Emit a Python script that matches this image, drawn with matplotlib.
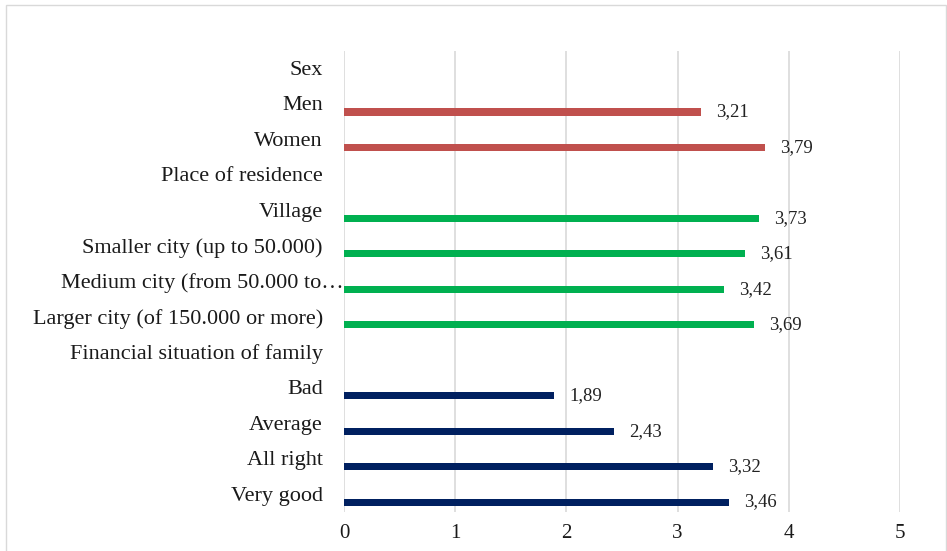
import numpy as np
import matplotlib
matplotlib.use("Agg")
import matplotlib.pyplot as plt
from matplotlib.patches import Rectangle

plt.rcParams['font.family'] = ['Liberation Serif', 'DejaVu Serif']

# Data
group_titles = ["Sex", "Place of residence", "Financial situation of family"]

sex_labels = ["Men", "Women"]
sex_values = [3.21, 3.79]

residence_labels = ["Village", "Smaller city (up to 50.000)",
                    "Medium city (from 50.000 to\u2026",
                    "Larger city (of 150.000 or more)"]
residence_values = [3.73, 3.61, 3.42, 3.69]

finance_labels = ["Bad", "Average", "All right", "Very good"]
finance_values = [1.89, 2.43, 3.32, 3.46]

x_ticks = [0, 1, 2, 3, 4, 5]

colors = ["#C0504D", "#00B050", "#002060"]

# Build the category list (group title followed by its members)
categories = []
series = []
for title, labels, values in zip(group_titles,
                                 [sex_labels, residence_labels, finance_labels],
                                 [sex_values, residence_values, finance_values]):
    categories.append(title)
    series.append(None)
    for lab, val in zip(labels, values):
        categories.append(lab)
        series.append(val)

fig = plt.figure(figsize=(9.47, 5.51), dpi=100)
W, H = 947, 551
ax = fig.add_axes([344 / W, 1 - 512 / H, (900 - 344) / W, (512 - 51) / H])

fs = 16
bar_off = 0.22
bar_h = 0.2
group_idx = -1
for i, cat in enumerate(categories):
    if cat in group_titles:
        group_idx += 1
        continue
    val = series[i]
    ax.barh(i + bar_off, val, height=bar_h, color=colors[group_idx], zorder=3)
    ax.text(val + 0.135, i + bar_off, f"{val:.2f}".replace(".", ","),
            va="center", ha="left", fontsize=13.5, color="#222222")

# Category labels
for i, cat in enumerate(categories):
    xpos = -0.005 if cat.endswith("\u2026") else -0.19
    ax.text(xpos, i + 0.05, cat, ha="right", va="center", fontsize=fs,
            color="#1a1a1a")

ax.set_xlim(0, 5)
ax.set_ylim(len(categories) - 0.5, -0.5)
ax.set_xticks(x_ticks)
ax.set_xticklabels([str(t) for t in x_ticks], fontsize=15, color="#1a1a1a")
ax.set_yticks([])
ax.tick_params(axis="x", length=0, pad=9)
ax.grid(axis="x", color="#D9D9D9", linewidth=1.2, zorder=0)
for s in ax.spines.values():
    s.set_visible(False)

# Chart border
fig.add_artist(Rectangle((6 / W, -0.1), (946 - 6) / W, 1.1 - 5 / H,
                         transform=fig.transFigure, fill=False,
                         edgecolor="#D9D9D9", linewidth=1))

fig.savefig("out.png", dpi=100)
